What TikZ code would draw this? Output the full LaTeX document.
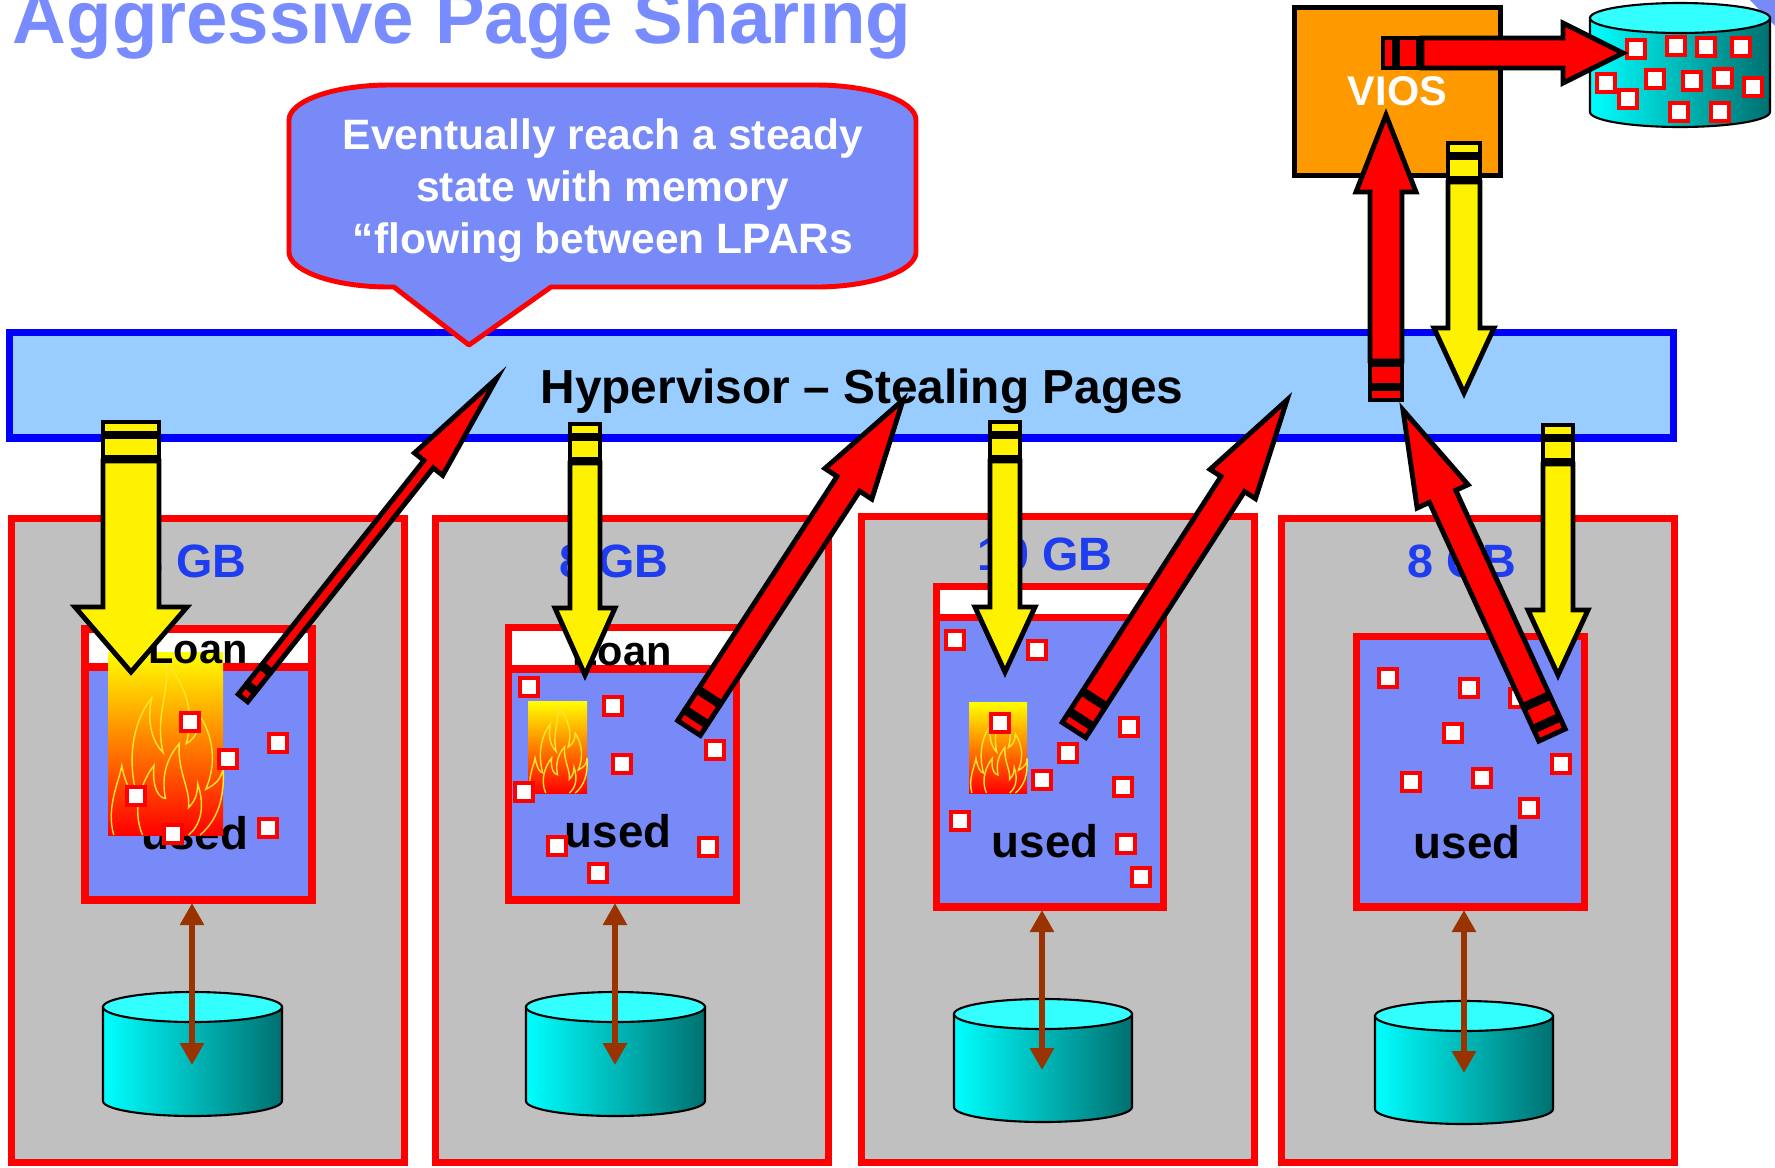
\documentclass[tikz,border=0pt]{standalone}
\usepackage{fontspec}
\setmainfont{Liberation Sans}
\usepackage{xcolor}
\usetikzlibrary{calc,arrows.meta}

\definecolor{titleblue}{RGB}{120,140,255}
\definecolor{usedblue}{RGB}{120,138,248}
\definecolor{hyperfill}{RGB}{153,204,255}
\definecolor{lpargrey}{RGB}{192,192,192}
\definecolor{gbblue}{RGB}{30,60,240}
\definecolor{viosorange}{RGB}{255,153,0}
\definecolor{diskcyan}{RGB}{0,255,255}
\definecolor{diskmid}{RGB}{0,200,200}
\definecolor{disktop}{RGB}{51,255,255}
\definecolor{diskteal}{RGB}{0,112,112}
\definecolor{linkbrown}{RGB}{153,51,0}
\definecolor{flameline}{RGB}{255,230,40}

% fat block arrow with a broken tail: tail, tip, fill, shaft half-width, head half-width, head length
\newcommand{\flowarrow}[6]{%
  \coordinate (ft) at (#1);
  \coordinate (fp) at (#2);
  \coordinate (fa) at ($(ft)!1.1mm!(fp)$);
  \coordinate (fb) at ($(ft)!1.5mm!(fp)$);
  \coordinate (fc) at ($(ft)!3.5mm!(fp)$);
  \coordinate (fs) at ($(ft)!3.9mm!(fp)$);
  \coordinate (fh) at ($(fp)!#6!(ft)$);
  \filldraw[arrowline, fill=#3] ($(ft)!#4!90:(fp)$) -- ($(fa)!#4!90:(fp)$) -- ($(fa)!#4!-90:(fp)$) -- ($(ft)!#4!-90:(fp)$) -- cycle;
  \filldraw[arrowline, fill=#3] ($(fb)!#4!90:(fp)$) -- ($(fc)!#4!90:(fp)$) -- ($(fc)!#4!-90:(fp)$) -- ($(fb)!#4!-90:(fp)$) -- cycle;
  \filldraw[arrowline, fill=#3] ($(fs)!#4!90:(fp)$) -- ($(fh)!#4!90:(fp)$) -- ($(fh)!#5!90:(fp)$) -- (fp)
    -- ($(fh)!#5!-90:(fp)$) -- ($(fh)!#4!-90:(fp)$) -- ($(fs)!#4!-90:(fp)$) -- cycle;
}

% burning page block: left, top, width, height
\newcommand{\fire}[4]{%
  \shade[top color=yellow, middle color=orange!85!red, bottom color=red] (#1,#2) rectangle ++(#3,#4);
  \begin{scope}[shift={(#1,#2)}, x={(#3,0)}, y={(0,#4)}, draw=flameline, line width=0.4pt]
    \draw (0.05,1) .. controls (-0.02,0.85) and (0.1,0.7) .. (0.12,0.62)
      .. controls (0.15,0.72) and (0.2,0.78) .. (0.25,0.78)
      .. controls (0.15,0.55) and (0.25,0.35) .. (0.38,0.25)
      .. controls (0.33,0.4) and (0.4,0.5) .. (0.48,0.55)
      .. controls (0.4,0.35) and (0.55,0.2) .. (0.5,0.05)
      .. controls (0.7,0.2) and (0.75,0.35) .. (0.68,0.5)
      .. controls (0.75,0.48) and (0.8,0.42) .. (0.8,0.35)
      .. controls (0.95,0.5) and (0.92,0.65) .. (0.85,0.75)
      .. controls (0.95,0.72) and (1,0.68) .. (1,0.62)
      .. controls (1.02,0.8) and (0.95,0.92) .. (0.8,1);
    \draw (0.3,1) .. controls (0.2,0.85) and (0.3,0.7) .. (0.4,0.62)
      .. controls (0.38,0.75) and (0.45,0.8) .. (0.5,0.8)
      .. controls (0.45,0.65) and (0.55,0.55) .. (0.62,0.5)
      .. controls (0.6,0.65) and (0.72,0.75) .. (0.7,0.85)
      .. controls (0.75,0.82) and (0.78,0.78) .. (0.78,0.72)
      .. controls (0.85,0.85) and (0.8,0.95) .. (0.7,1);
  \end{scope}
}

% disk drum: left x, right x, top centre y, bottom centre y
\newcommand{\drawdisk}[4]{%
  \shade[left color=diskcyan, middle color=diskmid, right color=diskteal, draw=black, line width=0.6pt]
    (#1,#3) -- (#1,#4) arc[start angle=180, end angle=360, x radius={(#2-#1)*0.05mm}, y radius=1.5mm] -- (#2,#3) -- cycle;
  \filldraw[fill=disktop, draw=black, line width=0.6pt] ({(#1+#2)/2},#3) ellipse[x radius={(#2-#1)*0.05mm}, y radius=1.5mm];
}

\begin{document}
\begin{tikzpicture}[x=0.1mm, y=-0.1mm,
    lparbox/.style={draw=red, fill=lpargrey, line width=2pt},
    usedbox/.style={draw=red, fill=usedblue, line width=2pt},
    loanbox/.style={draw=red, fill=white, line width=2pt},
    pagebox/.style={draw=red, fill=white, line width=1.4pt},
    hyperbar/.style={draw=blue, fill=hyperfill, line width=2pt},
    callout/.style={draw=red, fill=usedblue, line width=1.4pt, line join=round},
    viosbox/.style={draw=black, fill=viosorange, line width=1.4pt, text=white,
      font=\fontsize{11.8}{14}\selectfont\bfseries},
    arrowline/.style={draw=black, line width=1.4pt, line join=miter},
    linkarrow/.style={draw=linkbrown, line width=1.7pt,
      {Triangle[length=2.2mm,width=2.3mm]}-{Triangle[length=2.2mm,width=2.3mm]}},
    titlelbl/.style={inner sep=0pt, text=titleblue, font=\fontsize{21.2}{25}\selectfont\bfseries},
    hyperlbl/.style={inner sep=0pt, font=\fontsize{13.6}{16}\selectfont\bfseries},
    calloutlbl/.style={inner sep=0pt, text=white, align=center, font=\fontsize{12.1}{14.8}\selectfont\bfseries},
    gblbl/.style={inner sep=0pt, text=gbblue, font=\fontsize{13.3}{16}\selectfont\bfseries},
    usedlbl/.style={inner sep=0pt, font=\fontsize{13}{16}\selectfont\bfseries},
    loanlbl/.style={inner sep=0pt, font=\fontsize{11.8}{14}\selectfont\bfseries}]
  \useasboundingbox (0,0) rectangle (1775,1167);

  \node[titlelbl, anchor=base west] (title) at (12,43) {Aggressive Page Sharing};
  \fill[usedblue] (1750,0) -- (1775,0) -- (1775,26) -- cycle;

  % hypervisor layer
  \filldraw[hyperbar] (9.5,332.5) rectangle (1673.5,438);
  \node[hyperlbl, anchor=base] (hyper) at (862,403) {Hypervisor – Stealing Pages};

  % speech bubble
  \filldraw[callout] (389,85) -- (816,85) .. controls (871,85) and (916,101) .. (916,120)
    -- (916,252) .. controls (916,271) and (871,287) .. (816,287) -- (551,287) -- (469,345) -- (394,287)
    -- (389,287) .. controls (334,287) and (289,271) .. (289,252) -- (289,120)
    .. controls (289,101) and (334,85) .. (389,85) -- cycle;
  \node[calloutlbl] (note) at (603,191) {Eventually reach a steady\\state with memory\\“flowing between LPARs};

  % LPAR 1
  \filldraw[lparbox] (11.5,518.5) rectangle (404.5,1162.5);
  \node[gblbl, anchor=base] (gb1) at (192,577) {8 GB};
  \filldraw[loanbox] (85,629) rectangle (312,667);
  \filldraw[usedbox] (85,667) rectangle (312,900);
  \node[usedlbl, anchor=base] (used1) at (195,849) {used};
  \fire{108}{652}{115}{183}
  \node[loanlbl, anchor=base] (loan1) at (198,663) {Loan};
  \foreach \x/\y in {190/722, 228/759, 278/743, 136/796, 173/834, 268/828}
    \filldraw[pagebox] ({\x-9},{\y-9}) rectangle ++(18,18);
  \drawdisk{103}{282}{1007}{1101}
  \coordinate (u1) at (192,903);
  \coordinate (d1) at (192,1065);
  \draw[linkarrow] (u1) -- (d1);

  % LPAR 2
  \filldraw[lparbox] (435.5,518.5) rectangle (828.5,1162.5);
  \node[gblbl, anchor=base] (gb2) at (614,577) {8 GB};
  \filldraw[loanbox] (508.5,627.5) rectangle (736.5,669);
  \filldraw[usedbox] (508.5,669) rectangle (736.5,900);
  \node[usedlbl, anchor=base] (used2) at (618,847) {used};
  \fire{528}{701}{59}{92}
  \node[loanlbl, anchor=base] (loan2) at (622,665) {Loan};
  \foreach \x/\y in {529/687, 613/706, 715/750, 622/764, 524/792, 557/846, 598/873, 708/847}
    \filldraw[pagebox] ({\x-9},{\y-9}) rectangle ++(18,18);
  \drawdisk{526}{705}{1007}{1101}
  \coordinate (u2) at (615,903);
  \coordinate (d2) at (615,1065);
  \draw[linkarrow] (u2) -- (d2);

  % LPAR 3
  \filldraw[lparbox] (861.5,516.5) rectangle (1254.5,1162.5);
  \node[gblbl, anchor=base] (gb3) at (1045,570) {10 GB};
  \filldraw[loanbox] (936.5,586.5) rectangle (1163.5,617.5);
  \filldraw[usedbox] (936.5,617.5) rectangle (1163.5,907);
  \node[usedlbl, anchor=base] (used3) at (1045,857) {used};
  \fire{969}{702}{58}{91}
  \foreach \x/\y in {955/640, 1037/650, 1000/723, 1129/727, 1068/753, 1042/780, 1123/787, 960/821, 1126/844, 1141/877}
    \filldraw[pagebox] ({\x-9},{\y-9}) rectangle ++(18,18);
  \drawdisk{954}{1132}{1014}{1107}
  \coordinate (u3) at (1042,910);
  \coordinate (d3) at (1042,1070);
  \draw[linkarrow] (u3) -- (d3);

  % LPAR 4
  \filldraw[lparbox] (1281.5,518.5) rectangle (1674.5,1162.5);
  \node[gblbl, anchor=base] (gb4) at (1462,577) {8 GB};
  \filldraw[usedbox] (1356.5,636.5) rectangle (1584.5,907);
  \node[usedlbl, anchor=base] (used4) at (1467,858) {used};
  \foreach \x/\y in {1388/678, 1469/688, 1519/698, 1453/733, 1411/782, 1482/778, 1561/764, 1529/808}
    \filldraw[pagebox] ({\x-9},{\y-9}) rectangle ++(18,18);
  \drawdisk{1375}{1553}{1016}{1109}
  \coordinate (u4) at (1464,910);
  \coordinate (d4) at (1464,1073);
  \draw[linkarrow] (u4) -- (d4);

  % VIOS and its paging disk
  \node[viosbox, minimum width=20.6mm, minimum height=16.8mm] (vios) at (1397.5,91.5) {VIOS};
  \drawdisk{1590}{1770}{18}{112}
  \foreach \x/\y in {1636/49, 1676/46, 1706/47, 1741/47, 1606/83, 1628/99, 1655/79, 1692/81, 1723/78, 1753/87, 1679/112, 1720/112}
    \filldraw[pagebox] ({\x-9},{\y-9}) rectangle ++(18,18);

  % pages handed out by the hypervisor
  \flowarrow{131,422}{131,672}{yellow}{2.8mm}{5.6mm}{6.5mm}
  \flowarrow{585,424}{585,675}{yellow}{1.5mm}{3mm}{6.7mm}
  \flowarrow{1005,422}{1005,672}{yellow}{1.5mm}{3mm}{6.5mm}
  \flowarrow{1558,425}{1558,675}{yellow}{1.5mm}{3mm}{6.5mm}
  \flowarrow{1464,143}{1464,393}{yellow}{1.6mm}{3mm}{6.5mm}

  % pages stolen back
  \flowarrow{243,698}{497,378}{red}{0.6mm}{1.8mm}{11mm}
  \flowarrow{689,728}{903,400}{red}{1.35mm}{2.8mm}{10mm}
  \flowarrow{1074,730}{1287,400}{red}{1.4mm}{2.7mm}{10mm}
  \flowarrow{1552,735}{1403,410}{red}{1.45mm}{2.8mm}{9.5mm}
  \flowarrow{1386,400}{1386,115}{red}{1.6mm}{3mm}{7.7mm}
  \flowarrow{1383,53}{1623,53}{red}{1.5mm}{3mm}{6mm}
\end{tikzpicture}
\end{document}
